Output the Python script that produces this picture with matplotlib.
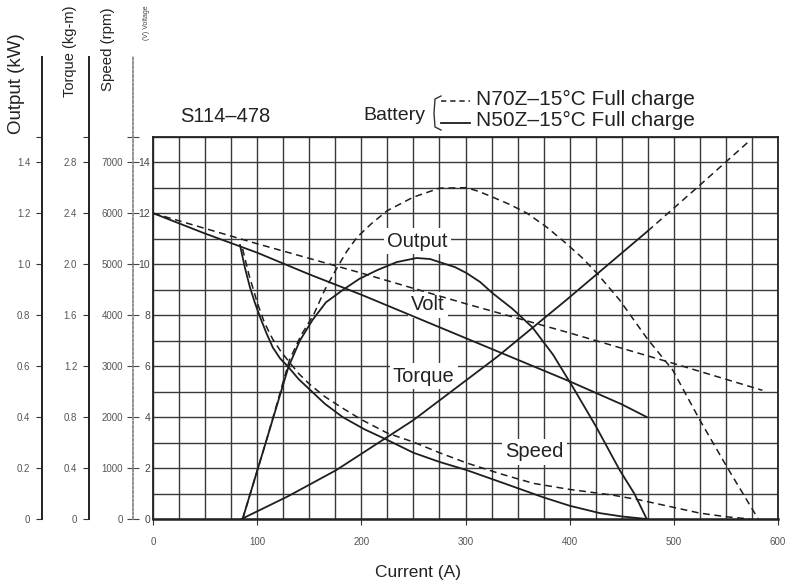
import matplotlib
matplotlib.use('Agg')
import matplotlib.pyplot as plt
from matplotlib.lines import Line2D

plt.rcParams['font.family'] = ['Liberation Sans', 'DejaVu Sans']

# ---------------- data ----------------
# Voltage (V) vs current (A)
volt_n50_current = [0, 50, 100, 150, 200, 250, 300, 350, 400, 450, 474]
volt_n50 = [12.0, 11.2, 10.45, 9.6, 8.8, 7.95, 7.1, 6.25, 5.4, 4.5, 4.0]
volt_n70_current = [0, 100, 200, 300, 400, 500, 585]
volt_n70 = [12.0, 10.8, 9.65, 8.45, 7.3, 6.1, 5.05]

# Output (kW) vs current (A)
out_n50_current = [86, 109, 130, 141, 153, 166, 182, 198, 215, 234, 253, 266, 278, 290,
                   301, 314, 326, 345, 364, 384, 403, 425, 448, 462, 474]
out_n50 = [0, 0.31, 0.596, 0.70, 0.78, 0.85, 0.898, 0.942, 0.976, 1.008, 1.024, 1.02,
           1.004, 0.988, 0.965, 0.93, 0.886, 0.825, 0.753, 0.645, 0.518, 0.365, 0.192,
           0.1, 0]
out_n70_current = [86, 109, 131, 142, 154, 165, 177, 186, 196, 210, 225, 250, 275, 301,
                   313, 326, 342, 359, 378, 397, 412, 426, 448, 474, 499, 525, 551, 581]
out_n70 = [0, 0.31, 0.624, 0.72, 0.80, 0.90, 0.988, 1.05, 1.106, 1.16, 1.21, 1.263,
           1.298, 1.30, 1.285, 1.263, 1.235, 1.20, 1.145, 1.08, 1.025, 0.965, 0.859,
           0.71, 0.584, 0.388, 0.204, 0]

# Torque (kg-m) vs current (A): solid up to N50Z limit, dashed beyond
torque_n50_current = [85, 130, 176, 250, 330, 397, 475]
torque_n50 = [0, 0.18, 0.384, 0.776, 1.27, 1.72, 2.26]
torque_n70_current = [475, 525, 573]
torque_n70 = [2.26, 2.62, 2.97]

# Speed (rpm) vs current (A)
speed_n50_current = [83.5, 88, 93, 98, 103, 109, 115, 122, 130, 140, 151, 165, 182, 203,
                     225, 250, 275, 301, 337, 374, 400, 429, 450, 474]
speed_n50 = [5375, 4950, 4550, 4230, 3950, 3640, 3365, 3150, 2980, 2740, 2530, 2260,
             2000, 1760, 1550, 1300, 1120, 960, 700, 430, 260, 115, 50, 0]
speed_n70_current = [86, 92, 100, 107, 115, 123, 131, 140, 150, 165, 180, 200, 225, 250,
                     275, 301, 333, 365, 400, 441, 467, 495, 525, 550, 573]
speed_n70 = [5300, 4800, 4250, 3850, 3525, 3280, 3075, 2850, 2650, 2400, 2200, 1950,
             1685, 1510, 1300, 1100, 890, 700, 580, 470, 375, 250, 115, 45, 0]

x_ticks = [0, 100, 200, 300, 400, 500, 600]
volt_ticks = [0, 2, 4, 6, 8, 10, 12, 14]
out_ticks = [0, 0.2, 0.4, 0.6, 0.8, 1.0, 1.2, 1.4, 1.5]
out_labels = ['0', '0.2', '0.4', '0.6', '0.8', '1.0', '1.2', '1.4', '']
torque_ticks = [0, 0.4, 0.8, 1.2, 1.6, 2.0, 2.4, 2.8, 3.0]
torque_labels = ['0', '0.4', '0.8', '1.2', '1.6', '2.0', '2.4', '2.8', '']
speed_ticks = [0, 1000, 2000, 3000, 4000, 5000, 6000, 7000, 7500]
speed_labels = ['0', '1000', '2000', '3000', '4000', '5000', '6000', '7000', '']

# ---------------- layout ----------------
W, H = 794, 582
L, R, B, T = 153, 778, 519, 136.7
fig = plt.figure(figsize=(W / 100, H / 100), dpi=100)
fig.patch.set_facecolor('white')
ax = fig.add_axes([L / W, 1 - B / H, (R - L) / W, (B - T) / H])
ax.set_xlim(0, 600)
ax.set_ylim(0, 15)
ax.set_xticks(x_ticks)
ax.set_xticks(range(0, 601, 25), minor=True)
ax.set_yticks(volt_ticks)
ax.set_yticks(range(0, 16), minor=True)
ax.set_axisbelow(True)
ax.grid(which='both', color='#3a3a3a', linewidth=1.0)
for s in ax.spines.values():
    s.set_color('#222222')
    s.set_linewidth(1.3)
ax.spines['bottom'].set_linewidth(1.8)
ax.tick_params(axis='x', which='major', length=4, pad=9, labelsize=7,
               labelcolor='#555555', color='#333333')
ax.tick_params(axis='y', which='major', length=0, pad=2, labelsize=7.5,
               labelcolor='#444444')
ax.tick_params(which='minor', length=0)

ink = '#1e1e1e'
DASH = (0, (4.5, 3))

# voltage curves on the main (voltage) axis
ax.plot(volt_n50_current, volt_n50, color=ink, lw=1.3, zorder=4)
ax.plot(volt_n70_current, volt_n70, color=ink, lw=1.1, ls=DASH, zorder=4)

axis_top_frac = (B - 57) / (B - T)  # spines extend above the grid


def side_axis(offset_px, top, ticks, labels, dotted=False, tickdir='out'):
    t = ax.twinx()
    t.set_ylim(0, top)
    for s in ['top', 'right', 'bottom']:
        t.spines[s].set_visible(False)
    sp = t.spines['left']
    sp.set_visible(True)
    sp.set_position(('axes', -offset_px / (R - L)))
    sp.set_bounds(0, top * axis_top_frac)
    if dotted:
        sp.set_color('#8a8a8a')
        sp.set_linestyle((0, (1.2, 1.2)))
        sp.set_linewidth(1.3)
    else:
        sp.set_color('#222222')
        sp.set_linewidth(1.4)
    t.yaxis.set_ticks_position('left')
    t.yaxis.set_label_position('left')
    t.set_yticks(ticks)
    t.set_yticklabels(labels)
    if tickdir == 'inout':
        t.tick_params(axis='y', direction='inout', length=8, pad=3, labelsize=7,
                      labelcolor='#555555', color='#444444')
    else:
        t.tick_params(axis='y', direction='out', length=4, pad=4.5, labelsize=7,
                      labelcolor='#555555', color='#333333')
    return t


ax_speed = side_axis(20, 7500, speed_ticks, speed_labels, dotted=True, tickdir='inout')
ax_torque = side_axis(64, 3.0, torque_ticks, torque_labels)
ax_out = side_axis(111, 1.5, out_ticks, out_labels)

ax_out.plot(out_n50_current, out_n50, color=ink, lw=1.3)
ax_out.plot(out_n70_current, out_n70, color=ink, lw=1.1, ls=DASH)
ax_torque.plot(torque_n50_current, torque_n50, color=ink, lw=1.3)
ax_torque.plot(torque_n70_current, torque_n70, color=ink, lw=1.1, ls=DASH)
ax_speed.plot(speed_n50_current, speed_n50, color=ink, lw=1.3)
ax_speed.plot(speed_n70_current, speed_n70, color=ink, lw=1.1, ls=DASH)

# curve labels (white boxes interrupt the grid)
box = dict(facecolor='white', edgecolor='none', pad=2.5)
for txt, xx, yy in [('Output', 254, 10.9), ('Volt', 264, 8.4),
                    ('Torque', 260, 5.6), ('Speed', 366, 2.63)]:
    ax.text(xx, yy, txt, fontsize=14.5, ha='center', va='center',
            color='#222222', bbox=box, zorder=3)

# ---------------- figure-level texts ----------------
def fx(px):
    return px / W


def fy(py):
    return 1 - py / H


fig.text(fx(17), fy(134), 'Output (kW)', rotation=90, ha='center', va='bottom',
         fontsize=13.5, color='#222222')
fig.text(fx(70), fy(97), 'Torque (kg-m)', rotation=90, ha='center', va='bottom',
         fontsize=10.5, color='#222222')
fig.text(fx(108), fy(91), 'Speed (rpm)', rotation=90, ha='center', va='bottom',
         fontsize=10.8, color='#222222')
fig.text(fx(147), fy(40), '(V) Voltage', rotation=90, ha='center', va='bottom',
         fontsize=5, color='#444444')

fig.text(fx(418), fy(572), 'Current (A)', ha='center', va='center',
         fontsize=12.5, color='#222222')
fig.text(fx(180), fy(117), 'S114\u2013478', ha='left', va='center',
         fontsize=14.5, color='#222222')
fig.text(fx(425), fy(115), 'Battery', ha='right', va='center',
         fontsize=14, color='#222222')

# bracket
fig.add_artist(Line2D([fx(441), fx(435), fx(434), fx(435), fx(441)],
                      [fy(96), fy(99), fy(113), fy(127), fy(130)],
                      color='#333333', lw=1.0))
# legend handles and texts
fig.add_artist(Line2D([fx(441), fx(470)], [fy(101), fy(101)], color=ink,
                      lw=1.1, ls=(0, (3.5, 2.5))))
fig.add_artist(Line2D([fx(441), fx(470)], [fy(123), fy(123)], color=ink, lw=1.3))
fig.text(fx(476), fy(99), 'N70Z\u201315\u00b0C Full charge', ha='left', va='center',
         fontsize=15, color='#222222')
fig.text(fx(476), fy(120), 'N50Z\u201315\u00b0C Full charge', ha='left', va='center',
         fontsize=15, color='#222222')

fig.savefig('out.png', dpi=100, facecolor='white')
